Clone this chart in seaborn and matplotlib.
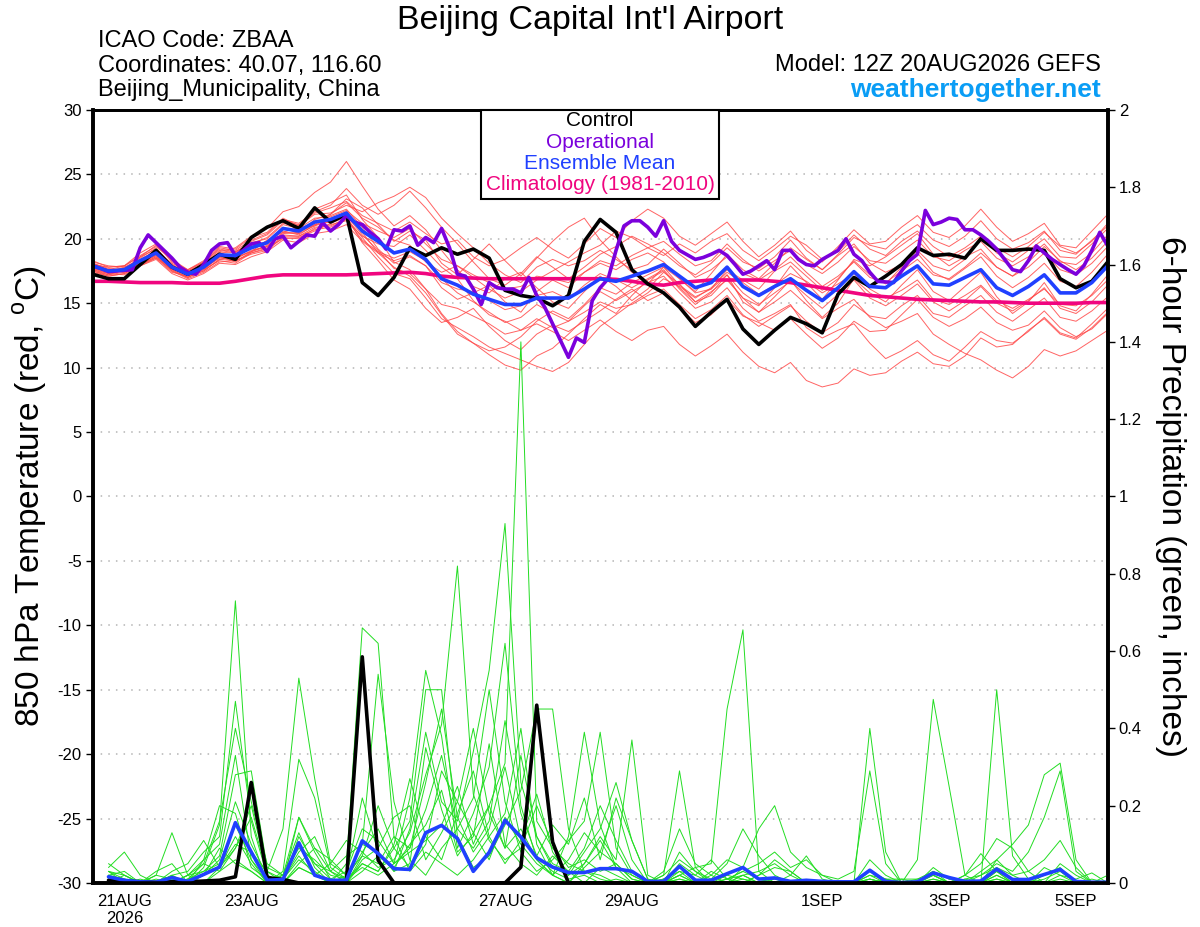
import numpy as np
import pandas as pd
import matplotlib
matplotlib.use('Agg')
import matplotlib.pyplot as plt
import seaborn as sns
from matplotlib.patches import Rectangle

sns.set_style('white')
plt.rcParams['font.family'] = ['Liberation Sans', 'DejaVu Sans']
plt.rcParams['axes.unicode_minus'] = False
plt.rcParams['text.color'] = 'black'
plt.rcParams['axes.labelcolor'] = 'black'
plt.rcParams['xtick.color'] = 'black'
plt.rcParams['ytick.color'] = 'black'

# GEFS 12Z 20AUG2026 run, days relative to 21AUG 00Z
day6 = np.arange(0, 385, 6) / 24.0 - 0.5     # 6-hourly
day3 = np.arange(0, 385, 3) / 24.0 - 0.5     # 3-hourly (operational)

tick_days = [0, 2, 4, 6, 8, 11, 13, 15]
tick_labels = ['21AUG\n2026', '23AUG', '25AUG', '27AUG', '29AUG', '1SEP', '3SEP', '5SEP']

# 850 hPa temperature (C)
control_t = [17.25, 16.9, 16.9, 18.0, 19.1, 17.8, 17.25, 18.0, 18.8, 18.4,
             20.1, 20.9, 21.4, 20.8, 22.4, 21.3, 21.9, 16.6, 15.6, 17.0,
             19.3, 18.7, 19.3, 18.8, 19.2, 18.5, 16.0, 15.6, 15.4, 14.8,
             15.6, 19.8, 21.5, 20.5, 17.6, 16.5, 15.8, 14.7, 13.2, 14.3,
             15.3, 13.0, 11.8, 12.9, 13.9, 13.4, 12.7, 15.7, 17.0, 16.3,
             17.1, 18.0, 19.3, 18.7, 18.8, 18.5, 20.0, 19.1, 19.1, 19.2,
             19.1, 16.9, 16.2, 16.7, 18.2]

oper_t = [17.9, 17.7, 17.45, 17.5, 17.55, 17.6, 19.3, 20.3, 19.7, 19.1,
          18.5, 17.8, 17.4, 17.25, 18.0, 19.1, 19.6, 19.7, 18.7, 19.1,
          19.6, 19.7, 19.0, 20.0, 20.2, 19.3, 19.8, 20.3, 20.2, 21.25,
          20.6, 21.1, 21.8, 21.3, 21.1, 20.5, 20.0, 19.2, 20.7, 20.6,
          21.0, 19.5, 20.1, 19.7, 20.8, 19.3, 17.25, 17.1, 16.1, 14.9,
          16.6, 16.2, 16.1, 16.1, 15.8, 17.0, 15.6, 14.7, 13.4, 12.1,
          10.8, 12.3, 11.95, 15.2, 16.2, 16.9, 19.1, 21.0, 21.4, 21.4,
          20.9, 20.2, 21.4, 19.8, 19.1, 18.75, 18.4, 18.55, 18.8, 19.1,
          18.7, 18.0, 17.25, 17.5, 17.9, 18.3, 17.6, 19.1, 19.1, 18.4,
          18.0, 17.9, 18.4, 18.75, 19.1, 20.0, 18.8, 18.3, 17.4, 16.7,
          16.65, 16.6, 17.5, 18.3, 18.8, 22.2, 21.1, 21.3, 21.6, 21.5,
          20.7, 20.7, 20.3, 19.8, 19.2, 18.4, 17.6, 17.45, 18.3, 19.45,
          18.9, 18.4, 18.0, 17.6, 17.25, 17.9, 19.1, 20.5, 19.45]

mean_t = [17.9, 17.5, 17.6, 18.3, 18.9, 17.8, 17.25, 17.8, 18.75, 18.7,
          19.3, 19.7, 20.8, 20.6, 21.3, 21.5, 22.0, 20.6, 19.8, 18.9,
          19.2, 18.4, 16.9, 16.4, 15.7, 15.3, 14.9, 14.9, 15.4, 15.4,
          15.4, 16.1, 16.9, 16.7, 17.1, 17.5, 18.0, 17.1, 16.2, 16.6,
          17.8, 16.3, 15.6, 16.3, 16.9, 16.0, 15.2, 16.2, 17.45, 16.3,
          16.2, 17.1, 17.9, 16.5, 16.4, 17.0, 17.6, 16.2, 15.6, 16.3,
          17.2, 15.8, 15.8, 16.6, 17.9]

clim_t = [16.7, 16.7, 16.65, 16.6, 16.6, 16.6, 16.55, 16.55, 16.55,
          16.7, 16.9, 17.1, 17.2, 17.2, 17.2, 17.2, 17.2,
          17.25, 17.3, 17.35, 17.4, 17.3, 17.1, 17.0, 16.95,
          16.9, 16.9, 16.9, 16.9, 16.9, 16.9, 16.9, 16.9,
          16.85, 16.7, 16.5, 16.4,
          16.6, 16.7, 16.8, 16.8, 16.8, 16.8, 16.7, 16.6,
          16.4, 16.2, 16.0, 15.8, 15.6, 15.5, 15.4, 15.3, 15.25, 15.2, 15.15, 15.1,
          15.1, 15.05, 15.0, 15.0, 15.0, 15.0, 15.05, 15.05]

# ensemble members, 850 hPa temperature
t_m01 = [18.3, 17.8, 17.9, 18.9, 19.6, 18.2, 17.6, 18.3, 19.4, 19.2, 20.1, 20.5, 21.6, 21.0, 22.3, 22.8,
         23.4, 21.5, 20.1, 18.2, 17.6, 16.1, 14.2, 12.8, 11.9, 11.0, 10.2, 9.8, 10.9, 11.5, 12.6, 13.8,
         14.9, 14.2, 15.6, 16.8, 17.5, 16.1, 14.9, 15.8, 17.2, 15.1, 14.3, 15.5, 16.8, 15.2, 13.9, 15.0,
         16.9, 15.8, 15.1, 16.4, 17.6, 15.9, 15.2, 16.3, 17.4, 15.5, 14.2, 15.1, 16.6, 14.8, 14.4, 15.7, 17.2]
t_m02 = [17.6, 17.2, 17.4, 18.0, 18.6, 17.5, 16.9, 17.4, 18.2, 18.3, 18.8, 19.1, 20.1, 20.0, 20.8, 21.1,
         21.4, 20.2, 19.6, 19.4, 20.3, 19.1, 17.8, 16.9, 15.2, 14.1, 13.6, 12.9, 13.4, 12.8, 12.1, 12.9,
         13.7, 12.8, 12.1, 12.9, 13.2, 11.8, 10.9, 11.7, 12.6, 11.2, 10.1, 9.6, 10.4, 9.0, 8.5, 8.8,
         9.9, 9.4, 9.6, 10.5, 11.2, 10.3, 10.1, 10.9, 12.3, 11.6, 11.8, 12.9, 13.8, 12.6, 12.2, 13.1, 14.3]
t_m03 = [18.1, 17.7, 17.5, 18.6, 19.2, 18.0, 17.4, 18.1, 19.1, 18.9, 19.8, 20.3, 21.4, 21.1, 22.0, 22.4,
         22.9, 21.8, 21.2, 20.6, 21.3, 20.4, 19.6, 19.9, 18.6, 17.9, 18.4, 19.3, 20.1, 19.2, 18.5, 19.6,
         20.8, 20.1, 21.4, 22.3, 21.6, 20.2, 19.5, 20.4, 21.3, 19.8, 18.6, 19.5, 20.6, 19.1, 18.2, 19.4,
         20.7, 19.6, 19.8, 20.9, 21.8, 20.5, 20.1, 21.0, 22.3, 20.9, 19.8, 20.4, 21.2, 19.5, 19.3, 20.6, 21.9]
t_m04 = [17.8, 17.4, 17.8, 18.1, 18.7, 18.0, 17.2, 17.6, 18.6, 18.5, 19.0, 19.9, 20.5, 20.9, 21.0, 21.8,
         22.3, 20.9, 19.2, 18.1, 18.6, 17.9, 16.2, 15.3, 15.8, 16.4, 15.1, 14.3, 15.9, 16.8, 16.2, 17.4,
         18.1, 17.6, 18.4, 18.9, 18.2, 16.9, 15.8, 16.1, 17.6, 16.8, 16.1, 17.5, 18.2, 17.1, 16.0, 16.9,
         18.3, 17.2, 16.5, 17.8, 18.9, 17.4, 16.8, 17.7, 18.6, 17.1, 16.2, 17.0, 18.1, 16.7, 16.3, 17.4, 18.8]
t_m05 = [18.0, 17.6, 17.7, 18.5, 19.3, 17.9, 17.1, 17.9, 19.0, 19.3, 20.2, 20.8, 22.1, 22.5, 23.6, 24.4,
         26.0, 24.1, 22.3, 21.0, 21.8, 20.7, 19.1, 17.6, 16.3, 15.8, 16.9, 17.4, 16.2, 15.1, 14.6, 15.9,
         17.1, 16.3, 15.2, 16.1, 17.4, 16.5, 15.1, 15.6, 16.9, 15.4, 14.8, 16.2, 17.9, 16.6, 15.3, 16.8,
         18.4, 17.9, 18.6, 19.5, 20.4, 18.8, 17.9, 18.6, 19.2, 17.8, 17.1, 18.2, 19.4, 18.3, 17.6, 18.5, 19.8]
t_m06 = [17.7, 17.3, 17.5, 18.2, 18.8, 17.6, 17.0, 17.7, 18.5, 18.4, 19.1, 19.4, 20.3, 20.2, 20.9, 21.0,
         21.6, 20.1, 18.6, 17.3, 16.9, 15.4, 13.8, 13.1, 12.4, 11.6, 11.1, 10.6, 10.1, 9.7, 10.4, 11.8,
         13.2, 14.1, 15.0, 15.8, 16.9, 16.3, 15.4, 16.2, 17.4, 16.6, 15.7, 16.4, 17.3, 16.7, 15.8, 16.5,
         17.3, 16.1, 15.4, 16.0, 16.8, 15.3, 14.9, 15.6, 16.4, 15.2, 14.6, 15.3, 16.1, 14.9, 14.8, 15.6, 16.8]
t_m07 = [18.2, 17.9, 17.8, 18.4, 19.1, 18.1, 17.5, 18.0, 18.9, 19.0, 19.6, 20.1, 21.2, 21.0, 21.9, 22.0,
         22.6, 22.1, 22.8, 23.3, 24.0, 23.2, 21.6, 20.4, 19.3, 18.1, 17.2, 16.6, 17.8, 18.4, 17.9, 18.3,
         19.1, 18.4, 17.6, 18.0, 19.2, 18.1, 17.0, 17.6, 18.6, 17.3, 16.8, 17.6, 18.6, 17.4, 16.3, 17.1,
         18.2, 17.0, 16.6, 17.5, 18.4, 17.2, 16.9, 17.8, 18.9, 17.8, 17.1, 17.8, 18.9, 17.6, 17.2, 18.1, 19.4]
t_m08 = [17.5, 17.1, 17.3, 17.9, 18.4, 17.3, 16.8, 17.3, 18.1, 18.0, 18.6, 19.0, 19.9, 19.7, 20.4, 20.6,
         21.1, 19.8, 18.9, 18.3, 18.7, 17.9, 16.6, 16.1, 15.9, 15.2, 14.5, 14.8, 15.6, 15.9, 15.3, 16.4,
         17.3, 16.8, 16.2, 16.9, 17.6, 16.2, 15.1, 15.9, 16.8, 15.4, 14.3, 15.1, 16.0, 14.9, 13.8, 14.6,
         15.3, 13.9, 13.1, 13.6, 14.2, 12.6, 11.8, 11.1, 10.6, 9.8, 9.2, 10.1, 11.4, 10.9, 11.3, 12.1, 12.9]
t_m09 = [18.0, 17.8, 17.9, 18.7, 19.4, 18.4, 17.6, 18.2, 19.2, 19.0, 19.7, 20.0, 21.1, 20.8, 21.6, 21.7,
         22.2, 21.2, 20.6, 20.1, 20.8, 19.6, 18.4, 17.9, 17.2, 16.6, 16.1, 16.3, 17.1, 16.9, 16.6, 17.4,
         18.3, 17.9, 18.7, 19.3, 19.8, 18.8, 17.9, 18.3, 19.6, 18.4, 17.5, 18.3, 19.1, 18.0, 17.3, 18.2,
         19.4, 18.3, 18.1, 19.0, 19.9, 18.6, 18.3, 19.1, 19.8, 18.5, 17.9, 18.6, 19.6, 18.2, 18.0, 18.9, 20.3]
t_m10 = [17.6, 17.3, 17.2, 17.9, 18.5, 17.4, 17.1, 17.5, 18.4, 18.6, 19.0, 19.5, 20.4, 20.5, 21.1, 21.3,
         21.8, 20.3, 19.1, 17.7, 17.3, 16.1, 14.9, 14.6, 14.0, 13.4, 12.6, 12.9, 13.8, 13.1, 13.6, 14.3,
         15.1, 14.6, 14.9, 15.6, 16.1, 14.9, 13.8, 14.5, 15.6, 14.1, 13.2, 14.0, 14.8, 13.6, 12.7, 13.5,
         14.9, 14.0, 13.8, 14.8, 15.6, 14.2, 13.9, 14.8, 15.6, 14.3, 13.6, 14.5, 15.4, 13.9, 13.6, 14.4, 15.5]
t_m11 = [17.9, 17.6, 17.4, 18.1, 18.8, 17.9, 17.3, 17.9, 18.7, 18.5, 19.4, 19.8, 20.6, 20.3, 21.1, 21.9,
         23.1, 22.4, 21.1, 19.8, 20.6, 19.9, 18.1, 17.2, 18.4, 19.6, 18.3, 17.1, 18.5, 19.8, 20.9, 21.6,
         19.9, 18.6, 17.4, 16.5, 17.8, 16.9, 15.9, 17.3, 18.8, 17.6, 16.9, 18.1, 19.3, 18.4, 17.6, 18.7,
         19.6, 18.1, 17.4, 18.0, 19.1, 17.9, 17.5, 18.4, 20.1, 19.3, 18.6, 19.4, 20.5, 19.4, 18.9, 19.8, 21.2]
t_m12 = [17.4, 17.1, 17.3, 18.0, 18.5, 17.6, 17.0, 17.6, 18.3, 18.1, 18.9, 19.3, 20.0, 20.1, 20.6, 21.2,
         21.7, 19.7, 18.3, 16.8, 16.1, 14.6, 13.5, 13.9, 14.6, 13.2, 12.1, 11.4, 12.6, 13.3, 12.8, 13.6,
         14.4, 15.3, 16.1, 15.2, 15.8, 14.6, 13.5, 14.1, 15.3, 14.0, 13.5, 12.9, 13.8, 12.6, 11.5, 12.3,
         13.6, 12.8, 12.9, 14.1, 15.3, 13.9, 13.2, 13.8, 14.7, 13.5, 12.9, 13.3, 14.4, 13.1, 12.4, 13.0, 14.2]
t_m13 = [17.8, 17.5, 17.6, 18.2, 19.0, 17.7, 17.2, 17.7, 18.6, 18.8, 19.5, 19.6, 20.9, 20.4, 21.5, 21.9,
         22.8, 21.6, 20.9, 19.9, 19.5, 18.2, 17.4, 17.9, 17.0, 16.1, 15.4, 15.9, 16.8, 17.5, 18.2, 18.9,
         19.5, 20.6, 20.1, 19.3, 18.7, 19.6, 18.9, 19.8, 20.4, 19.1, 18.3, 19.2, 20.2, 19.5, 18.4, 19.0,
         20.3, 19.2, 18.7, 19.8, 20.6, 19.4, 18.6, 19.3, 20.2, 18.9, 18.2, 19.1, 20.0, 18.6, 18.5, 19.6, 20.8]
t_m14 = [17.7, 17.4, 17.5, 18.0, 18.6, 17.7, 17.2, 17.8, 18.6, 18.2, 19.0, 19.4, 20.5, 20.4, 21.0, 21.4,
         22.1, 20.5, 18.9, 17.8, 17.1, 15.8, 14.1, 12.6, 11.9, 11.3, 11.6, 12.4, 13.6, 14.4, 13.8, 14.9,
         16.2, 15.7, 16.6, 17.2, 17.8, 16.4, 15.5, 16.1, 17.2, 15.8, 14.9, 15.8, 16.7, 15.6, 14.6, 15.7,
         16.8, 15.4, 14.8, 15.6, 16.5, 15.1, 14.4, 15.2, 16.3, 15.0, 14.4, 15.2, 16.2, 14.6, 14.2, 15.1, 16.4]
t_m15 = [18.1, 17.6, 17.9, 18.6, 19.5, 18.3, 17.5, 18.2, 19.3, 19.1, 19.9, 20.4, 21.5, 21.2, 22.1, 22.6,
         23.9, 22.6, 21.9, 22.6, 23.7, 22.4, 20.9, 19.6, 18.2, 16.9, 16.4, 17.3, 18.6, 17.8, 16.9, 17.8,
         18.8, 19.4, 20.2, 19.6, 18.9, 17.9, 17.2, 18.1, 19.3, 18.2, 17.7, 18.6, 19.9, 18.5, 17.6, 18.8,
         20.1, 19.5, 19.2, 20.3, 21.1, 19.9, 19.4, 20.2, 21.4, 20.0, 19.2, 19.7, 20.6, 19.1, 18.8, 19.9, 21.0]
t_m16 = [17.5, 17.2, 17.6, 18.1, 18.7, 17.5, 17.0, 17.5, 18.4, 18.3, 18.9, 19.2, 20.2, 20.2, 20.7, 20.9,
         21.5, 19.9, 19.0, 18.5, 19.0, 18.3, 16.9, 15.8, 15.1, 14.3, 13.5, 13.9, 14.9, 14.2, 13.6, 14.8,
         15.9, 15.2, 15.9, 16.6, 17.1, 15.8, 14.6, 15.1, 16.2, 14.6, 13.6, 14.2, 14.9, 13.1, 12.3, 12.9,
         13.4, 11.9, 10.7, 11.3, 12.1, 11.0, 10.5, 11.6, 12.8, 12.1, 11.9, 12.8, 13.9, 12.7, 12.3, 13.4, 14.6]

# 6-hour precipitation (inches), valid from +6 h onward
control_p = [0.007, 0.005, 0.003, 0.002, 0.003, 0.003, 0.005, 0.007,
             0.016, 0.26, 0.014, 0.009, 0.0, 0.0, 0.0, 0.003,
             0.585, 0.059, 0.0, 0.0, 0.0, 0.0, 0.0, 0.0,
             0.0, 0.0, 0.041, 0.46, 0.106, 0.0, 0.0, 0.0,
             0.0, 0.0, 0.0, 0.0, 0.0, 0.0, 0.0, 0.0,
             0.0, 0.0, 0.0, 0.0, 0.0, 0.0, 0.0, 0.0,
             0.0, 0.0, 0.0, 0.0, 0.0, 0.0, 0.0, 0.0,
             0.0, 0.0, 0.0, 0.0, 0.0, 0.0, 0.0, 0.0]

mean_p = [0.016, 0.007, 0.003, 0.002, 0.014, 0.004, 0.022, 0.041,
          0.156, 0.08, 0.007, 0.009, 0.104, 0.02, 0.007, 0.007,
          0.109, 0.076, 0.037, 0.035, 0.13, 0.149, 0.115, 0.03,
          0.079, 0.162, 0.119, 0.065, 0.041, 0.027, 0.027, 0.037,
          0.037, 0.03, 0.004, 0.004, 0.043, 0.007, 0.007, 0.024,
          0.04, 0.01, 0.013, 0.004, 0.007, 0.004, 0.003, 0.003,
          0.033, 0.004, 0.001, 0.003, 0.026, 0.014, 0.004, 0.005,
          0.036, 0.009, 0.009, 0.022, 0.035, 0.004, 0.002, 0.002]

p_m01 = [0.04, 0.08, 0.02, 0.0, 0.0, 0.01, 0.03, 0.05, 0.15, 0.06, 0.01, 0.0, 0.04, 0.02, 0.0, 0.05,
         0.66, 0.62, 0.12, 0.03, 0.08, 0.05, 0.02, 0.06, 0.12, 0.18, 0.40, 0.10, 0.02, 0.0, 0.04, 0.08,
         0.20, 0.06, 0.0, 0.0, 0.02, 0.0, 0.0, 0.01, 0.03, 0.01, 0.0, 0.0, 0.0, 0.0, 0.0, 0.0,
         0.01, 0.0, 0.0, 0.06, 0.475, 0.25, 0.02, 0.0, 0.03, 0.0, 0.0, 0.02, 0.04, 0.0, 0.0, 0.0]
p_m02 = [0.03, 0.01, 0.0, 0.02, 0.13, 0.02, 0.0, 0.03, 0.09, 0.20, 0.03, 0.01, 0.07, 0.02, 0.0, 0.02,
         0.10, 0.54, 0.21, 0.06, 0.02, 0.09, 0.14, 0.22, 0.50, 0.21, 0.08, 0.03, 0.06, 0.11, 0.16, 0.39,
         0.09, 0.02, 0.0, 0.01, 0.04, 0.01, 0.0, 0.0, 0.02, 0.03, 0.05, 0.02, 0.07, 0.01, 0.0, 0.0,
         0.0, 0.0, 0.0, 0.01, 0.02, 0.0, 0.0, 0.03, 0.06, 0.10, 0.15, 0.28, 0.31, 0.06, 0.0, 0.0]
p_m03 = [0.02, 0.0, 0.0, 0.0, 0.03, 0.05, 0.11, 0.04, 0.12, 0.05, 0.0, 0.03, 0.32, 0.22, 0.04, 0.01,
         0.05, 0.03, 0.09, 0.16, 0.50, 0.50, 0.12, 0.04, 0.07, 0.15, 0.24, 0.45, 0.45, 0.14, 0.03, 0.01,
         0.0, 0.0, 0.0, 0.02, 0.06, 0.03, 0.01, 0.05, 0.14, 0.07, 0.02, 0.0, 0.0, 0.0, 0.0, 0.0,
         0.02, 0.01, 0.0, 0.0, 0.03, 0.01, 0.0, 0.02, 0.05, 0.03, 0.08, 0.17, 0.29, 0.03, 0.0, 0.0]
p_m04 = [0.05, 0.02, 0.0, 0.01, 0.0, 0.02, 0.06, 0.20, 0.18, 0.04, 0.01, 0.02, 0.10, 0.05, 0.03, 0.01,
         0.08, 0.14, 0.05, 0.22, 0.55, 0.38, 0.09, 0.18, 0.30, 0.62, 0.20, 0.06, 0.02, 0.0, 0.05, 0.12,
         0.06, 0.37, 0.02, 0.0, 0.01, 0.0, 0.0, 0.0, 0.0, 0.02, 0.04, 0.03, 0.0, 0.0, 0.0, 0.0,
         0.40, 0.08, 0.0, 0.0, 0.01, 0.0, 0.0, 0.0, 0.02, 0.0, 0.0, 0.01, 0.03, 0.0, 0.0, 0.0]
p_m05 = [0.01, 0.0, 0.0, 0.02, 0.01, 0.0, 0.04, 0.15, 0.73, 0.12, 0.0, 0.01, 0.06, 0.03, 0.0, 0.0,
         0.03, 0.07, 0.04, 0.10, 0.15, 0.24, 0.08, 0.12, 0.36, 0.10, 0.05, 0.02, 0.07, 0.03, 0.09, 0.20,
         0.11, 0.03, 0.0, 0.02, 0.29, 0.04, 0.0, 0.0, 0.01, 0.0, 0.0, 0.02, 0.0, 0.0, 0.0, 0.0,
         0.03, 0.01, 0.0, 0.0, 0.0, 0.0, 0.02, 0.076, 0.03, 0.0, 0.0, 0.0, 0.01, 0.0, 0.0, 0.0]
p_m06 = [0.03, 0.0, 0.0, 0.0, 0.02, 0.03, 0.08, 0.12, 0.47, 0.16, 0.02, 0.0, 0.17, 0.08, 0.01, 0.0,
         0.06, 0.09, 0.17, 0.20, 0.06, 0.13, 0.21, 0.40, 0.18, 0.09, 0.14, 0.06, 0.02, 0.12, 0.39, 0.15,
         0.04, 0.0, 0.0, 0.03, 0.14, 0.05, 0.02, 0.0, 0.0, 0.0, 0.01, 0.0, 0.0, 0.0, 0.0, 0.0,
         0.01, 0.0, 0.0, 0.0, 0.0, 0.0, 0.01, 0.0, 0.50, 0.07, 0.01, 0.0, 0.0, 0.0, 0.0, 0.0]
p_m07 = [0.0, 0.01, 0.0, 0.0, 0.0, 0.02, 0.03, 0.07, 0.28, 0.29, 0.04, 0.02, 0.09, 0.06, 0.02, 0.01,
         0.04, 0.02, 0.05, 0.08, 0.11, 0.15, 0.25, 0.10, 0.20, 0.31, 1.40, 0.16, 0.09, 0.05, 0.03, 0.02,
         0.0, 0.0, 0.0, 0.01, 0.03, 0.02, 0.06, 0.01, 0.02, 0.0, 0.0, 0.0, 0.0, 0.0, 0.0, 0.0,
         0.0, 0.0, 0.0, 0.0, 0.02, 0.0, 0.02, 0.05, 0.115, 0.09, 0.03, 0.0, 0.0, 0.0, 0.0, 0.0]
p_m08 = [0.02, 0.03, 0.0, 0.0, 0.0, 0.0, 0.02, 0.04, 0.10, 0.08, 0.03, 0.14, 0.53, 0.27, 0.05, 0.02,
         0.07, 0.05, 0.12, 0.09, 0.26, 0.45, 0.17, 0.08, 0.14, 0.30, 0.11, 0.07, 0.15, 0.10, 0.22, 0.06,
         0.22, 0.11, 0.01, 0.0, 0.02, 0.04, 0.05, 0.45, 0.655, 0.03, 0.0, 0.0, 0.0, 0.0, 0.0, 0.0,
         0.0, 0.01, 0.01, 0.01, 0.03, 0.0, 0.0, 0.0, 0.02, 0.0, 0.0, 0.0, 0.0, 0.0, 0.0, 0.02]
p_m09 = [0.01, 0.0, 0.01, 0.0, 0.0, 0.01, 0.05, 0.03, 0.06, 0.03, 0.0, 0.02, 0.17, 0.09, 0.03, 0.07,
         0.10, 0.08, 0.03, 0.14, 0.39, 0.21, 0.16, 0.34, 0.55, 0.93, 0.26, 0.12, 0.04, 0.02, 0.08, 0.14,
         0.26, 0.11, 0.01, 0.0, 0.03, 0.0, 0.0, 0.01, 0.03, 0.05, 0.08, 0.04, 0.06, 0.02, 0.01, 0.03,
         0.29, 0.05, 0.0, 0.0, 0.0, 0.0, 0.01, 0.02, 0.04, 0.02, 0.03, 0.06, 0.11, 0.04, 0.0, 0.0]
p_m10 = [0.0, 0.0, 0.0, 0.0, 0.01, 0.0, 0.02, 0.09, 0.05, 0.03, 0.0, 0.0, 0.04, 0.02, 0.05, 0.11,
         0.08, 0.04, 0.06, 0.13, 0.28, 0.41, 0.82, 0.23, 0.11, 0.06, 0.09, 0.20, 0.10, 0.04, 0.06, 0.03,
         0.05, 0.01, 0.0, 0.0, 0.01, 0.0, 0.02, 0.06, 0.04, 0.14, 0.20, 0.08, 0.04, 0.02, 0.0, 0.0,
         0.01, 0.0, 0.0, 0.0, 0.01, 0.0, 0.0, 0.0, 0.01, 0.0, 0.0, 0.0, 0.02, 0.01, 0.026, 0.0]
p_m11 = [0.0, 0.02, 0.0, 0.0, 0.0, 0.01, 0.02, 0.06, 0.21, 0.10, 0.02, 0.0, 0.12, 0.05, 0.01, 0.03,
         0.14, 0.11, 0.05, 0.09, 0.19, 0.33, 0.14, 0.09, 0.16, 0.42, 0.18, 0.07, 0.03, 0.01, 0.02, 0.0,
         0.01, 0.0, 0.0, 0.0, 0.05, 0.02, 0.0, 0.0, 0.04, 0.01, 0.0, 0.0, 0.0, 0.0, 0.0, 0.0,
         0.02, 0.0, 0.0, 0.0, 0.0, 0.0, 0.0, 0.0, 0.0, 0.0, 0.0, 0.04, 0.02, 0.0, 0.0, 0.0]
p_m12 = [0.02, 0.01, 0.0, 0.0, 0.02, 0.0, 0.06, 0.10, 0.33, 0.06, 0.0, 0.01, 0.08, 0.12, 0.03, 0.0,
         0.05, 0.03, 0.10, 0.27, 0.12, 0.06, 0.18, 0.29, 0.12, 0.05, 0.11, 0.23, 0.08, 0.02, 0.05, 0.11,
         0.04, 0.02, 0.0, 0.0, 0.08, 0.03, 0.0, 0.02, 0.01, 0.0, 0.0, 0.0, 0.0, 0.0, 0.0, 0.0,
         0.06, 0.02, 0.0, 0.0, 0.04, 0.01, 0.0, 0.0, 0.03, 0.01, 0.0, 0.0, 0.05, 0.02, 0.0, 0.0]
p_m13 = [0.01, 0.0, 0.0, 0.03, 0.05, 0.0, 0.0, 0.04, 0.09, 0.17, 0.03, 0.0, 0.05, 0.09, 0.06, 0.02,
         0.22, 0.08, 0.03, 0.05, 0.35, 0.19, 0.07, 0.13, 0.20, 0.09, 0.33, 0.12, 0.05, 0.03, 0.0, 0.04,
         0.02, 0.0, 0.0, 0.01, 0.0, 0.0, 0.03, 0.01, 0.0, 0.02, 0.06, 0.03, 0.0, 0.0, 0.0, 0.0,
         0.0, 0.0, 0.01, 0.0, 0.02, 0.0, 0.0, 0.0, 0.06, 0.02, 0.0, 0.0, 0.0, 0.0, 0.01, 0.0]
p_m14 = [0.03, 0.02, 0.0, 0.0, 0.0, 0.02, 0.05, 0.16, 0.40, 0.21, 0.05, 0.02, 0.13, 0.04, 0.0, 0.0,
         0.07, 0.20, 0.09, 0.04, 0.10, 0.29, 0.21, 0.13, 0.06, 0.17, 0.10, 0.05, 0.02, 0.06, 0.13, 0.08,
         0.05, 0.01, 0.0, 0.0, 0.02, 0.0, 0.0, 0.0, 0.02, 0.0, 0.0, 0.0, 0.0, 0.0, 0.0, 0.0,
         0.03, 0.0, 0.0, 0.0, 0.0, 0.0, 0.0, 0.0, 0.01, 0.0, 0.0, 0.0, 0.0, 0.0, 0.0, 0.0]

temp_members = [t_m01, t_m02, t_m03, t_m04, t_m05, t_m06, t_m07, t_m08,
                t_m09, t_m10, t_m11, t_m12, t_m13, t_m14, t_m15, t_m16]
precip_members = [p_m01, p_m02, p_m03, p_m04, p_m05, p_m06, p_m07,
                  p_m08, p_m09, p_m10, p_m11, p_m12, p_m13, p_m14]

red_df = pd.concat([pd.DataFrame({'day': day6, 'temp': m, 'member': k})
                    for k, m in enumerate(temp_members)], ignore_index=True)
green_df = pd.concat([pd.DataFrame({'day': day6[1:], 'precip': m, 'member': k})
                      for k, m in enumerate(precip_members)], ignore_index=True)

fig = plt.figure(figsize=(12, 9.27), dpi=100)
ax = fig.add_axes([0.0772, 0.0475, 0.8459, 0.8339])
ax2 = ax.twinx()

# temperature (left axis)
sns.lineplot(data=red_df, x='day', y='temp', units='member', estimator=None,
             color='#ff4848', linewidth=0.7, alpha=0.85, ax=ax, legend=False)
sns.lineplot(x=day6, y=clim_t, color='#f0057f', linewidth=2.6, ax=ax)
sns.lineplot(x=day6, y=control_t, color='black', linewidth=2.6, ax=ax)
sns.lineplot(x=day3, y=oper_t, color='#7b00dc', linewidth=2.6, ax=ax)
sns.lineplot(x=day6, y=mean_t, color='#2040ff', linewidth=2.6, ax=ax)

# precipitation (right axis)
sns.lineplot(data=green_df, x='day', y='precip', units='member', estimator=None,
             color='#22dd22', linewidth=0.7, ax=ax2, legend=False)
sns.lineplot(x=day6[1:], y=control_p, color='black', linewidth=2.6, ax=ax2)
sns.lineplot(x=day6[1:], y=mean_p, color='#2040ff', linewidth=2.6, ax=ax2)

ax.set_xlim(-0.5, 15.5)
ax.set_ylim(-30, 30)
ax.set_yticks(range(-30, 31, 5))
ax2.set_ylim(0, 2)
ax2.set_yticks(np.arange(0, 2.01, 0.2))
ax2.set_yticklabels(['%g' % round(v, 1) for v in np.arange(0, 2.01, 0.2)])
ax.set_xticks(tick_days)
ax.set_xticklabels(tick_labels)
ax.set_xlabel('')
ax2.set_xlabel('')

for y in range(-25, 30, 5):
    ax.axhline(y, color='#b4b4b4', linestyle=(0, (1, 4)), linewidth=1.1, zorder=0)

ax.tick_params(axis='both', direction='out', length=5, width=1, labelsize=12, pad=3)
ax2.tick_params(axis='y', direction='out', length=5, width=1, labelsize=12, pad=3)
for a in (ax, ax2):
    for side in ('left', 'right', 'bottom'):
        a.spines[side].set_linewidth(2.6)
    a.spines['top'].set_linewidth(2.0)
    for s in a.spines.values():
        s.set_color('black')

ax.set_ylabel('850 hPa Temperature (red, $^{\\mathregular{o}}$C)', fontsize=24, va='center')
ax.yaxis.set_label_coords(-0.0615, 0.5)
ax2.set_ylabel('6-hour Precipitation (green, inches)', fontsize=24, rotation=-90, va='center')
ax2.yaxis.set_label_coords(1.0615, 0.5)

# header texts
fig.text(0.492, 1 - 29 / 927, "Beijing Capital Int'l Airport", ha='center', va='baseline', fontsize=24.5)
fig.text(98 / 1200, 1 - 47 / 927, 'ICAO Code: ZBAA', ha='left', va='baseline', fontsize=17)
fig.text(98 / 1200, 1 - 72 / 927, 'Coordinates: 40.07, 116.60', ha='left', va='baseline', fontsize=17)
fig.text(98 / 1200, 1 - 96 / 927, 'Beijing_Municipality, China', ha='left', va='baseline', fontsize=17)
fig.text(1101 / 1200, 1 - 71 / 927, 'Model: 12Z 20AUG2026 GEFS', ha='right', va='baseline', fontsize=17)
fig.text(1101 / 1200, 1 - 97 / 927, 'weathertogether.net', ha='right', va='baseline',
         fontsize=19, fontweight='bold', color='#0a9df5')

# legend box
fig.add_artist(Rectangle((480.7 / 1200, 1 - 198.7 / 927), 238.3 / 1200, 88.7 / 927,
                         transform=fig.transFigure, facecolor='white', edgecolor='black',
                         linewidth=1.5, zorder=10))
for ypix, txt, col in [(121, 'Control', 'black'), (142, 'Operational', '#7b00dc'),
                       (163.5, 'Ensemble Mean', '#2040ff'), (185, 'Climatology (1981-2010)', '#f0057f')]:
    fig.text(0.5, 1 - ypix / 927, txt, ha='center', va='center', fontsize=15, color=col, zorder=11)

fig.savefig('out.png', dpi=100)
